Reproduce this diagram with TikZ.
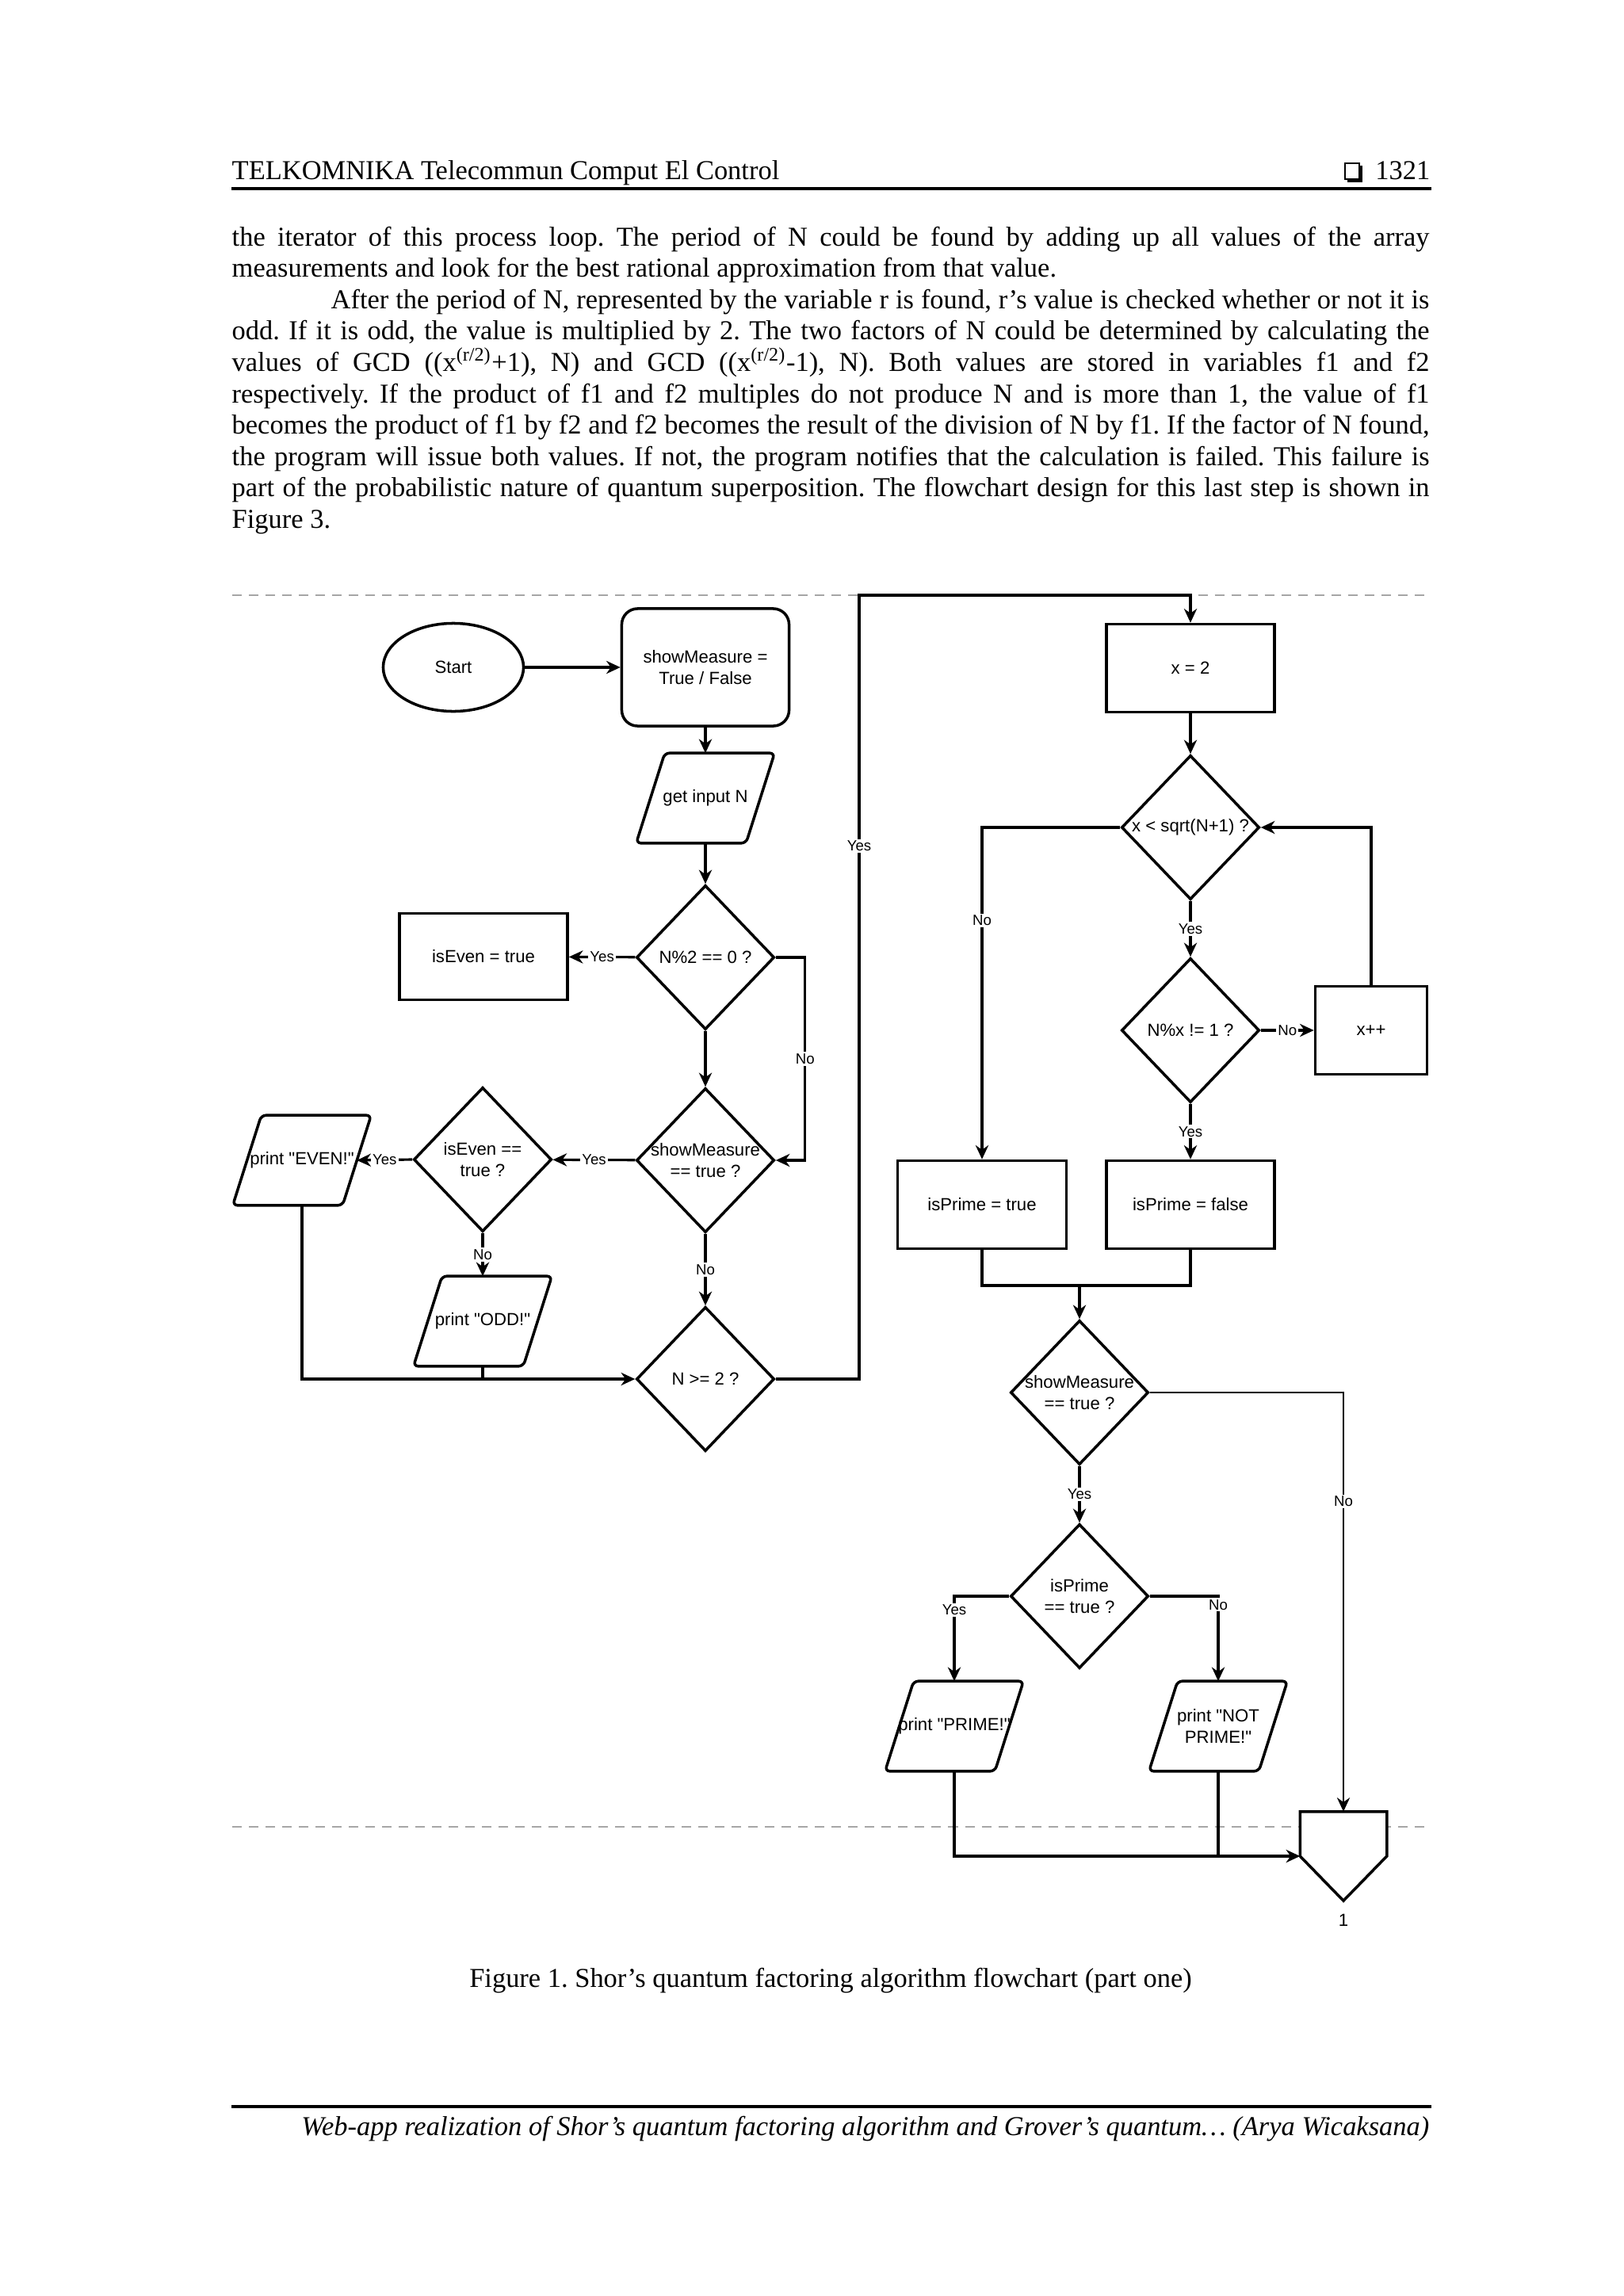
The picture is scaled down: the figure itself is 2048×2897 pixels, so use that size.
\documentclass[tikz,border=0pt]{standalone}
\usepackage{fontspec}
\setmainfont{Liberation Serif}
\newfontfamily\chartsans{Liberation Sans}
\usetikzlibrary{shapes.geometric,arrows.meta,positioning,calc}
\frenchspacing

\newcommand\pagetxt{\fontsize{9.8pt}{11.3pt}\selectfont}
\newcommand\chartfnt{\chartsans\fontsize{6.3pt}{7.6pt}\selectfont}
\newcommand\lblfnt{\chartsans\fontsize{5.3pt}{6pt}\selectfont}
\newcommand\fullline[1]{\makebox[15.10cm][s]{#1}}
\newcommand\zw[1]{\makebox[0pt]{#1}}
% parallelogram outline round an io node
\newcommand\iooutline[1]{%
  \draw[line width=1pt, rounded corners=0.06cm] (#1.south west) -- ([xshift=0.36cm]#1.north west)
    -- (#1.north east) -- ([xshift=-0.36cm]#1.south east) -- cycle;}

\begin{document}
\begin{tikzpicture}[x=0.01cm, y=-0.01cm,
  shp/.style={draw, line width=1pt, font=\chartfnt, align=center, inner sep=1pt},
  procbox/.style={shp, rectangle, minimum width=2.12cm, minimum height=1.11cm},
  setbox/.style={procbox, rounded corners=0.2cm, minimum width=2.11cm, minimum height=1.48cm},
  startoval/.style={shp, ellipse, minimum width=1.77cm, minimum height=1.11cm},
  decide/.style={shp, diamond, minimum width=1.74cm, minimum height=1.82cm, inner sep=0pt},
  iobox/.style={shp, draw=none, rectangle, minimum width=1.71cm, minimum height=1.10cm},
  offpage/.style={draw=none, rectangle, minimum width=1.08cm, minimum height=1.11cm, inner sep=0pt},
  arr/.style={-{Stealth[length=5pt, width=4.6pt, inset=1.6pt]}, line width=0.9pt},
  lnk/.style={line width=0.9pt},
  lbl/.style={font=\lblfnt, fill=white, inner sep=0.6pt},
  cutline/.style={draw=black!35, line width=0.8pt, dash pattern=on 0.12cm off 0.09cm},
  pagetext/.style={font=\pagetxt, inner sep=0pt, anchor=base west},
]
\useasboundingbox (0,0) rectangle (2048,2897);
\fill[white] (0,0) rectangle (2048,2897);

% ─── Page header ───
\node[pagetext] (hdr) at (292,227) {TELKOMNIKA Telecommun Comput El Control};
\node[pagetext, anchor=base east] (pgno) at (1805,227) {1321};
\draw[line width=0.6pt] (1697,206) rectangle (1715,226);
\fill (1715,209) rectangle (1719,230);
\fill (1700,226) rectangle (1719,230);
\draw[line width=1pt] (292,238) -- (1806,238);

% ─── Body text ───
\node[pagetext] (l1) at (292,310) {\fullline{the iterator of this process loop. The period of N could be found by adding up all values of the array}};
\node[pagetext] (l2) at (292,349.6) {measurements and look for the best rational approximation from that value.};
\node[pagetext] (l3) at (417,389.2) {\makebox[13.85cm][s]{After the period of N, represented by the variable r is found, r’s value is checked whether or not it is}};
\node[pagetext] (l4) at (292,428.8) {\fullline{odd. If it is odd, the value is multiplied by 2. The two factors of N could be determined by calculating the}};
\node[pagetext] (l5) at (292,468.4) {\fullline{values of GCD ((x\textsuperscript{(r/2)}+1), N) and GCD ((x\textsuperscript{(r/2)}-1), N). Both values are stored in variables f1 and f2}};
\node[pagetext] (l6) at (292,508) {\fullline{respectively. If the product of f1 and f2 multiples do not produce N and is more than 1, the value of f1}};
\node[pagetext] (l7) at (292,547.6) {\fullline{becomes the product of f1 by f2 and f2 becomes the result of the division of N by f1. If the factor of N found,}};
\node[pagetext] (l8) at (292,587.2) {\fullline{the program will issue both values. If not, the program notifies that the calculation is failed. This failure is}};
\node[pagetext] (l9) at (292,626.8) {\fullline{part of the probabilistic nature of quantum superposition. The flowchart design for this last step is shown in}};
\node[pagetext] (l10) at (292,666.4) {Figure 3.};

% ─── Section cut lines ───
\draw[cutline] (293,751) -- (1797,751);
\draw[cutline] (293,2305) -- (1797,2305);

% ─── Left column ───
\node[startoval] (start) at (572,842) {Start};
\node[setbox] (showm) at (890,842) {showMeasure =\\True / False};
\node[iobox] (getn) at (890,1007) {get input N};
\node[decide] (mod2) at (890,1208) {\zw{N\%2 == 0 ?}};
\node[procbox, minimum height=1.09cm] (even1) at (610,1207) {isEven = true};
\node[decide] (sm1) at (890,1464) {\zw{showMeasure}\\\zw{== true ?}};
\node[decide] (iseven) at (609,1463) {\zw{isEven ==}\\\zw{true ?}};
\node[iobox] (evenp) at (381,1464) {print "EVEN!"};
\node[iobox] (oddp) at (609,1667) {print "ODD!"};
\node[decide] (nge2) at (890,1740) {\zw{N >= 2 ?}};
\coordinate (ytop) at (1084,751);
\iooutline{getn}
\iooutline{evenp}
\iooutline{oddp}

% ─── Right column ───
\node[procbox] (xtwo) at (1502,843) {x = 2};
\node[decide] (sq) at (1502,1044) {\zw{x < sqrt(N+1) ?}};
\node[decide] (modx) at (1502,1300) {\zw{N\%x != 1 ?}};
\node[procbox, minimum width=1.41cm] (xinc) at (1730,1300) {x++};
\node[procbox, minimum width=2.13cm] (ptrue) at (1239,1520) {isPrime = true};
\node[procbox] (pfalse) at (1502,1520) {isPrime = false};
\coordinate (mrg) at (1362,1622);
\node[decide] (sm2) at (1362,1757) {\zw{showMeasure}\\\zw{== true ?}};
\node[decide] (ipr) at (1362,2014) {\zw{isPrime}\\\zw{== true ?}};
\node[iobox] (primep) at (1204,2178) {print "PRIME!"};
\node[iobox] (notp) at (1537,2178) {print "NOT\\PRIME!"};
\node[offpage] (offp) at (1695,2342) {};
\node[font=\chartfnt] (offlbl) at (1695,2423) {1};
\iooutline{primep}
\iooutline{notp}
\filldraw[fill=white, line width=1pt] (offp.north west) -- (offp.north east) -- (offp.east) -- (offp.south) -- (offp.west) -- cycle;

% ─── Left connectors ───
\draw[arr] (start) -- (showm);
\draw[arr] (showm) -- (getn);
\draw[arr] (getn) -- (mod2);
\draw[arr] (mod2) -- node[lbl] {Yes} (even1);
\draw[arr] (mod2.east) -- ++(37,0) |- node[lbl, pos=0.25] {No} (sm1.east);
\draw[arr] (mod2) -- (sm1);
\draw[arr] (sm1) -- node[lbl] {Yes} (iseven);
\draw[arr] (iseven.west) -- node[lbl] {Yes} ([xshift=-0.18cm]evenp.east);
\draw[arr] (iseven) -- node[lbl] {No} (oddp);
\draw[arr] (sm1) -- node[lbl] {No} (nge2);
\draw[arr] (evenp.south) |- (nge2.west);
\draw[lnk] (oddp.south) -- (oddp.south |- nge2.west);
\draw[arr] (nge2.east) -| node[lbl, pos=0.84] {Yes} (ytop) -| (xtwo.north);

% ─── Right connectors ───
\draw[arr] (xtwo) -- (sq);
\draw[arr] (sq.west) -| node[lbl, pos=0.64] {No} (ptrue.north);
\draw[arr] (sq) -- node[lbl] {Yes} (modx);
\draw[arr] (modx) -- node[lbl] {No} (xinc);
\draw[arr] (xinc.north) |- (sq.east);
\draw[arr] (modx) -- node[lbl] {Yes} (pfalse);
\draw[lnk] (ptrue.south) |- (mrg) -| (pfalse.south);
\draw[arr] (mrg) -- (sm2);
\draw[arr, line width=0.6pt] (sm2.east) -| node[lbl, pos=0.63] {No} (offp.north);
\draw[arr] (sm2) -- node[lbl] {Yes} (ipr);
\draw[arr] (ipr.west) -| node[lbl, pos=0.58] {Yes} (primep.north);
\draw[arr] (ipr.east) -| node[lbl, pos=0.55] {No} (notp.north);
\draw[arr] (primep.south) |- (offp.west);
\draw[lnk] (notp.south) -- (notp.south |- offp.west);

% ─── Caption and footer ───
\node[pagetext, anchor=base] (cap) at (1048,2507) {Figure 1. Shor’s quantum factoring algorithm flowchart (part one)};
\draw[line width=1pt] (292,2658) -- (1806,2658);
\node[pagetext, anchor=base east, font=\pagetxt\itshape] (foot) at (1804,2694) {Web-app realization of Shor’s quantum factoring algorithm and Grover’s quantum… (Arya Wicaksana)};
\end{tikzpicture}
\end{document}
